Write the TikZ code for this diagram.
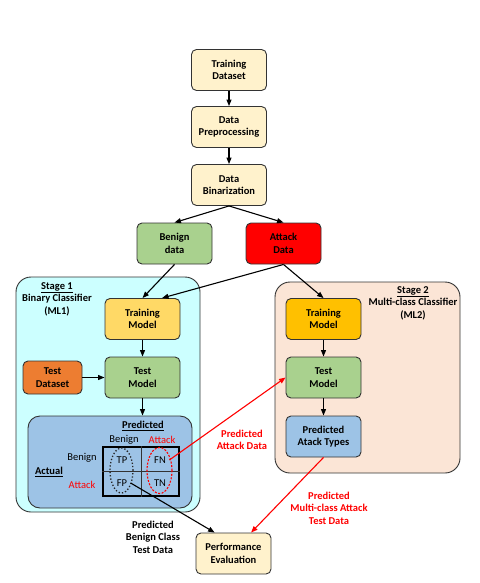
\documentclass[tikz,border=0pt]{standalone}
\usepackage{fontspec}
\setmainfont{Carlito}
\usepackage{tikz}
\usetikzlibrary{arrows.meta,shapes.geometric,calc}
\definecolor{creamFill}{HTML}{FFF2CC}
\definecolor{benignGreen}{HTML}{A9D18E}
\definecolor{attackRed}{HTML}{FF0000}
\definecolor{trainYellow}{HTML}{FFD966}
\definecolor{trainGold}{HTML}{FFC000}
\definecolor{testOrange}{HTML}{ED7D31}
\definecolor{predBlue}{HTML}{9DC3E6}
\definecolor{stageCyan}{HTML}{CCFFFF}
\definecolor{stagePeach}{HTML}{FBE5D6}
\newcommand{\boxfont}{\fontsize{10.5}{12.5}\selectfont}

\begin{document}
\begin{tikzpicture}[x=1pt, y=-1pt,
    block/.style={draw=black!80, line width=0.9pt, rounded corners=5pt, minimum width=75pt,
        minimum height=41pt, align=center, font=\boxfont\bfseries},
    stagebox/.style={draw=black!80, line width=0.9pt, rounded corners=15pt},
    flow/.style={-{Triangle[length=6.5pt,width=5pt]}, line width=1.1pt},
    redflow/.style={flow, attackRed},
    lbl/.style={align=center, font=\boxfont\bfseries},
    cell/.style={font=\boxfont}]
    \useasboundingbox (0,0) rectangle (479,583);

    % stage containers
    \node[stagebox, fill=stageCyan, minimum width=184pt, minimum height=235pt] (stage1) at (108,394.5) {};
    \node[stagebox, fill=stagePeach, minimum width=185pt, minimum height=191pt] (stage2) at (367.5,377.5) {};
    \node[lbl] (stage1lbl) at (57,299) {\underline{Stage 1}\\Binary Classifier\\(ML1)};
    \node[lbl] (stage2lbl) at (413,303) {\underline{Stage 2}\\Multi-class Classifier\\(ML2)};

    % data preparation
    \node[block, fill=creamFill] (trainset) at (229,70) {Training\\Dataset};
    \node[block, fill=creamFill] (prep) at (229,127) {Data\\Preprocessing};
    \node[block, fill=creamFill] (binar) at (229,185) {Data\\Binarization};
    \node[block, fill=benignGreen] (benign) at (174.5,243.5) {Benign\\data};
    \node[block, fill=attackRed] (attack) at (283.5,243.5) {Attack\\Data};

    % stage 1
    \node[block, fill=trainYellow] (train1) at (142.5,319) {Training\\Model};
    \node[block, fill=benignGreen] (test1) at (142.5,377.5) {Test\\Model};
    \node[block, fill=testOrange, minimum width=59pt, minimum height=33pt] (testset) at (52.5,377.5) {Test\\Dataset};

    % confusion matrix
    \node[draw=black!80, line width=0.9pt, fill=predBlue, rounded corners=12pt,
        minimum width=164pt, minimum height=92pt] (cmbox) at (110,462) {};
    \node[draw=black, line width=1.2pt, minimum width=76pt, minimum height=49pt, inner sep=0pt] (cmgrid) at (141,471.5) {};
    \draw[black!80, line width=0.7pt] (cmgrid.north) -- (cmgrid.south);
    \draw[black!80, line width=0.7pt] (cmgrid.west) -- (cmgrid.east);
    \node[lbl] (predhdr) at (143,426) {\underline{Predicted}};
    \node[cell] (colben) at (124,440) {Benign};
    \node[cell, attackRed] (colatt) at (162,440) {Attack};
    \node[cell] (rowben) at (82,458) {Benign};
    \node[cell, attackRed] (rowatt) at (82,485) {Attack};
    \node[lbl] (acthdr) at (49,472) {\underline{Actual}};
    \node[cell] (tp) at (122,460) {TP};
    \node[cell] (fn) at (160,460) {FN};
    \node[cell] (fp) at (122,483) {FP};
    \node[cell] (tn) at (160,483) {TN};
    \node[ellipse, draw=black!85, dotted, line width=1.3pt, inner sep=0pt,
        minimum width=23pt, minimum height=45pt] (tpfp) at (121.5,470.5) {};
    \node[ellipse, draw=attackRed, dashed, dash pattern=on 2pt off 1.5pt, line width=1.1pt, inner sep=0pt,
        minimum width=25pt, minimum height=46pt] (fntn) at (159.5,470.5) {};

    % stage 2
    \node[block, fill=trainGold] (train2) at (323.5,319) {Training\\Model};
    \node[block, fill=benignGreen] (test2) at (323.5,377.5) {Test\\Model};
    \node[block, fill=predBlue] (predtypes) at (323.5,436.5) {Predicted\\Atack Types};

    % evaluation
    \node[block, fill=creamFill] (perf) at (233.5,553.5) {Performance\\Evaluation};

    % connectors
    \draw[flow] (trainset) -- (prep);
    \draw[flow] (prep) -- (binar);
    \draw[flow] (binar.south) -- (benign.north);
    \draw[flow] (binar.south) -- (attack.north);
    \draw[flow] (benign.south) -- (train1.north);
    \draw[flow] (attack.south) -- (train1.47);
    \draw[flow] (attack.south) -- (train2.north);
    \draw[flow] (train1) -- (test1);
    \draw[flow] (testset) -- (test1);
    \draw[flow] (test1.south) -- (cmbox.north -| test1.south);
    \draw[flow] (train2) -- (test2);
    \draw[flow] (test2) -- (predtypes);
    \draw[redflow] (fn.east) -- (test2.west);
    \draw[flow] (fp.east) -- (perf.132);
    \draw[redflow] (predtypes.south) -- (perf.50);

    % connector labels
    \node[lbl, attackRed] (attlbl) at (242,440) {Predicted\\Attack Data};
    \node[lbl] (benlbl) at (153,537) {Predicted\\Benign Class\\Test Data};
    \node[lbl, attackRed] (multilbl) at (329,508) {Predicted\\Multi-class Attack\\Test Data};
\end{tikzpicture}
\end{document}
